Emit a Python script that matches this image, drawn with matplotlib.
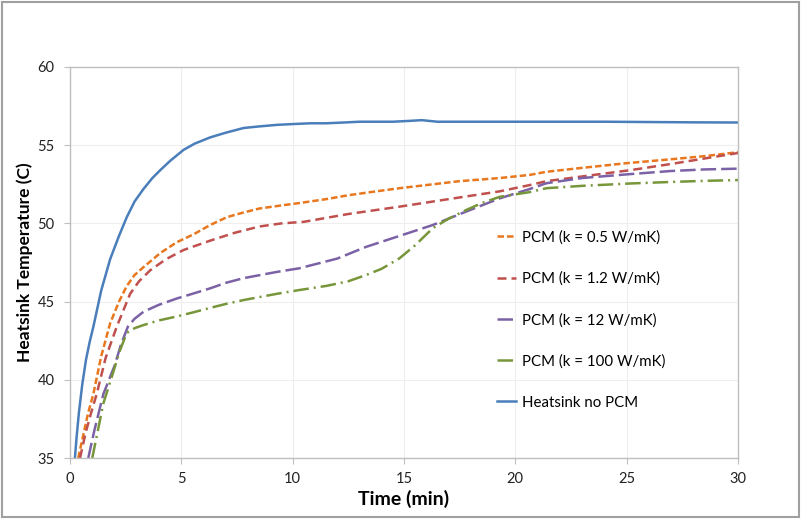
import matplotlib
matplotlib.use("Agg")
import matplotlib.pyplot as plt
from matplotlib.patches import Rectangle

plt.rcParams['font.family'] = ['Lato', 'DejaVu Sans']

# ---- data ----
t_blue = [0.22, 0.3, 0.4, 0.55, 0.72, 0.88, 1.05, 1.4, 1.8, 2.2, 2.55, 2.9, 3.3, 3.7, 4.05, 4.5,
          5.1, 5.6, 6.3, 7.0, 7.8, 8.5, 9.3, 10.0, 10.8, 11.5, 12.3, 13.0, 13.8, 14.5,
          15.2, 15.8, 16.5, 18, 20, 22, 24, 26, 28, 30]
T_blue = [35, 36.4, 37.9, 39.7, 41.3, 42.4, 43.4, 45.7, 47.7, 49.2, 50.4, 51.4, 52.2, 52.9, 53.4, 54.0,
          54.7, 55.1, 55.5, 55.8, 56.1, 56.2, 56.3, 56.35, 56.4, 56.4, 56.45, 56.5, 56.5, 56.5,
          56.55, 56.6, 56.5, 56.5, 56.5, 56.5, 56.5, 56.48, 56.46, 56.45]

t_k05 = [0.37, 0.6, 0.8, 1.05, 1.4, 1.8, 2.2, 2.55, 2.9, 3.3, 4.05, 4.8, 5.55, 6.3, 7.05,
         7.8, 8.5, 9.5, 10.3, 11.5, 12.5, 13.5, 14.8, 16, 17.5, 19.3, 20.65, 21.4, 23, 25,
         27, 28.5, 30]
T_k05 = [35, 36.5, 37.8, 39.1, 41.5, 43.6, 45.0, 46.0, 46.7, 47.2, 48.1, 48.8, 49.3, 49.9, 50.4,
         50.7, 50.95, 51.15, 51.3, 51.55, 51.8, 52.0, 52.25, 52.45, 52.7, 52.9, 53.1, 53.3, 53.55, 53.85,
         54.1, 54.3, 54.55]

t_k12 = [0.45, 0.7, 0.95, 1.2, 1.6, 2.1, 2.7, 3.1, 3.6, 4.3, 5.1, 6.3, 7.4, 8.5, 9.5, 10.5,
         12.5, 14.8, 17, 19.3, 20.65, 21.4, 23, 25.15, 27, 28.5, 30]
T_k12 = [35, 36.6, 37.9, 39.1, 41.4, 43.4, 45.5, 46.3, 47.0, 47.7, 48.3, 48.9, 49.4, 49.8, 50.0, 50.1,
         50.6, 51.07, 51.55, 52.05, 52.45, 52.7, 53.0, 53.4, 53.8, 54.15, 54.5]

t_k12w = [0.82, 1.1, 1.5, 2.0, 2.3, 2.6, 2.9, 3.3, 4.0, 4.8, 5.5, 6.3, 7.0, 7.8, 9.3, 10.3,
          12.0, 13.3, 14.8, 16.3, 17.8, 19.3, 20.65, 21.4, 23, 25.15, 27, 28.5, 30]
T_k12w = [35, 36.8, 39.1, 40.9, 42.3, 43.4, 43.9, 44.35, 44.8, 45.2, 45.5, 45.85, 46.2, 46.5, 46.9, 47.13,
          47.75, 48.5, 49.2, 49.9, 50.76, 51.6, 52.2, 52.57, 52.9, 53.15, 53.35, 53.45, 53.5]

t_k100 = [1.0, 1.5, 1.9, 2.25, 2.55, 2.9, 3.3, 4.0, 4.8, 5.5, 6.3, 7.0, 7.8, 9.3, 10.3, 11.5,
          12.5, 13.3, 14.0, 14.8, 15.5, 16.3, 17.0, 17.8, 18.5, 19.3, 20.65, 21.4, 23, 25.15,
          27, 28.5, 30]
T_k100 = [35, 38.5, 40.3, 41.9, 43.0, 43.3, 43.5, 43.8, 44.05, 44.3, 44.6, 44.85, 45.1, 45.5, 45.74, 46.0,
          46.3, 46.7, 47.1, 47.77, 48.6, 49.7, 50.3, 50.86, 51.3, 51.7, 52.0, 52.25, 52.4, 52.55,
          52.65, 52.72, 52.77]

labels = ["PCM (k = 0.5 W/mK)", "PCM (k = 1.2 W/mK)", "PCM (k = 12 W/mK)",
          "PCM (k = 100 W/mK)", "Heatsink no PCM"]
x_ticks = [0, 5, 10, 15, 20, 25, 30]
y_ticks = [35, 40, 45, 50, 55, 60]

# ---- figure ----
fig = plt.figure(figsize=(8.01, 5.20), dpi=100)
ax = fig.add_axes([0.0874, 0.1192, 0.8339, 0.752])

lw = 1.8
ax.plot(t_k05, T_k05, color='#E8771E', lw=lw, dashes=(2.6, 1.2), label=labels[0])
ax.plot(t_k12, T_k12, color='#C0504D', lw=lw, dashes=(3.6, 2.0), label=labels[1])
ax.plot(t_k12w, T_k12w, color='#7B62A6', lw=lw, dashes=(6.2, 2.0), label=labels[2])
ax.plot(t_k100, T_k100, color='#77963A', lw=lw, dashes=(6.2, 2.0, 0.8, 2.0), label=labels[3])
ax.plot(t_blue, T_blue, color='#4A7EBB', lw=lw, label=labels[4])

ax.set_xlim(0, 30)
ax.set_ylim(35, 60)
ax.set_xticks(x_ticks)
ax.set_yticks(y_ticks)
ax.tick_params(labelsize=10.5, colors='#222222', length=4, color='#BFBFBF')
ax.tick_params(axis='y', pad=7)
ax.tick_params(axis='x', pad=6)
ax.grid(True, color='#EEEEEE', lw=0.8)
ax.set_axisbelow(True)
for s in ax.spines.values():
    s.set_color('#BFBFBF')
    s.set_linewidth(1.0)

ax.set_xlabel("Time (min)", fontsize=14, fontweight='bold', labelpad=3)
ax.set_ylabel("Heatsink Temperature (C)", fontsize=12.5, fontweight='bold', labelpad=3)

leg = ax.legend(loc='center left', bbox_to_anchor=(0.639, 0.353), frameon=False,
                fontsize=10.8, labelspacing=1.8, handlelength=1.25, handletextpad=0.4,
                borderpad=0, borderaxespad=0)

fig.patches.append(Rectangle((0.002, 0.006), 0.996, 0.99, transform=fig.transFigure,
                             fill=False, edgecolor='#A0A0A0', lw=1.5))

fig.savefig("out.png", dpi=100)
